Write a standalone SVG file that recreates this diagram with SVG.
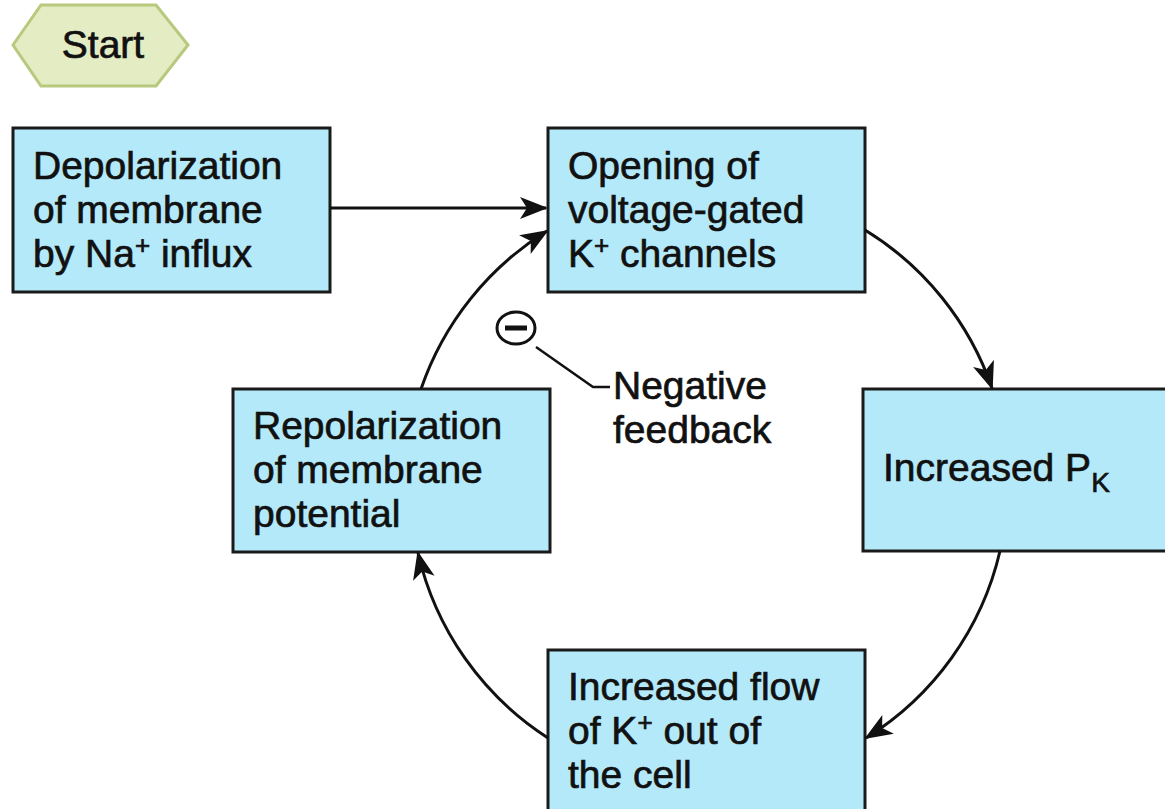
<svg xmlns="http://www.w3.org/2000/svg" width="1165" height="809" viewBox="0 0 1165 809">
<style>
.box{fill:#b4e9f9;stroke:#1a1a1a;stroke-width:3}
.t{font-family:"Liberation Sans",Arial,Helvetica,sans-serif;font-size:39px;fill:#111;stroke:#111;stroke-width:0.7}
.c{fill:none;stroke:#111;stroke-width:3}
</style>
<defs>
<marker id="ah" markerUnits="userSpaceOnUse" markerWidth="32" markerHeight="26" refX="26" refY="11" orient="auto">
<path d="M0,0 L28,11 L0,22 L7,11 z" fill="#111"/>
</marker>
</defs>
<rect width="1165" height="809" fill="#fff"/>
<g id="start">
<polygon points="13,45 41,5 156,5 188,45 156,86 41,86" fill="#e3ecc3" stroke="#b8c97e" stroke-width="3"/>
<text class="t" x="103" y="58" text-anchor="middle">Start</text>
</g>
<g id="depolarization">
<rect class="box" x="13" y="128" width="317" height="164"/>
<text class="t" x="33" y="179">Depolarization</text>
<text class="t" x="33" y="223">of membrane</text>
<text class="t" x="33" y="267">by Na<tspan font-size="26" dy="-13">+</tspan><tspan dy="13"> influx</tspan></text>
</g>
<g id="opening">
<rect class="box" x="548" y="128" width="317" height="164"/>
<text class="t" x="568" y="179">Opening of</text>
<text class="t" x="568" y="223">voltage-gated</text>
<text class="t" x="568" y="267">K<tspan font-size="26" dy="-13">+</tspan><tspan dy="13"> channels</tspan></text>
</g>
<g id="increased-pk">
<rect class="box" x="863" y="389" width="320" height="162"/>
<text class="t" x="883" y="481">Increased P<tspan font-size="28" dy="11">K</tspan></text>
</g>
<g id="increased-flow">
<rect class="box" x="548" y="650" width="317" height="175"/>
<text class="t" x="568" y="700">Increased flow</text>
<text class="t" x="568" y="744">of K<tspan font-size="26" dy="-13">+</tspan><tspan dy="13"> out of</tspan></text>
<text class="t" x="568" y="788">the cell</text>
</g>
<g id="repolarization">
<rect class="box" x="233" y="389" width="317" height="163"/>
<text class="t" x="253" y="439">Repolarization</text>
<text class="t" x="253" y="483">of membrane</text>
<text class="t" x="253" y="527">potential</text>
</g>
<g id="negative-feedback">
<ellipse cx="516" cy="328" rx="19" ry="16" fill="#fff" stroke="#111" stroke-width="3"/>
<line x1="505" y1="328" x2="527" y2="328" stroke="#111" stroke-width="5"/>
<polyline points="536,347 593,387 610,387" fill="none" stroke="#111" stroke-width="2.5"/>
<text class="t" x="613" y="399">Negative</text>
<text class="t" x="613" y="443">feedback</text>
</g>
<g id="connectors">
<line class="c" x1="330" y1="208" x2="546" y2="208" marker-end="url(#ah)"/>
<path class="c" d="M865,230 A300,300 0 0 1 992,388" marker-end="url(#ah)"/>
<path class="c" d="M1000,551 A300,300 0 0 1 866,738" marker-end="url(#ah)"/>
<path class="c" d="M548,738 A300,300 0 0 1 418,553" marker-end="url(#ah)"/>
<path class="c" d="M421,389 A300,300 0 0 1 547,231" marker-end="url(#ah)"/>
</g>
</svg>
